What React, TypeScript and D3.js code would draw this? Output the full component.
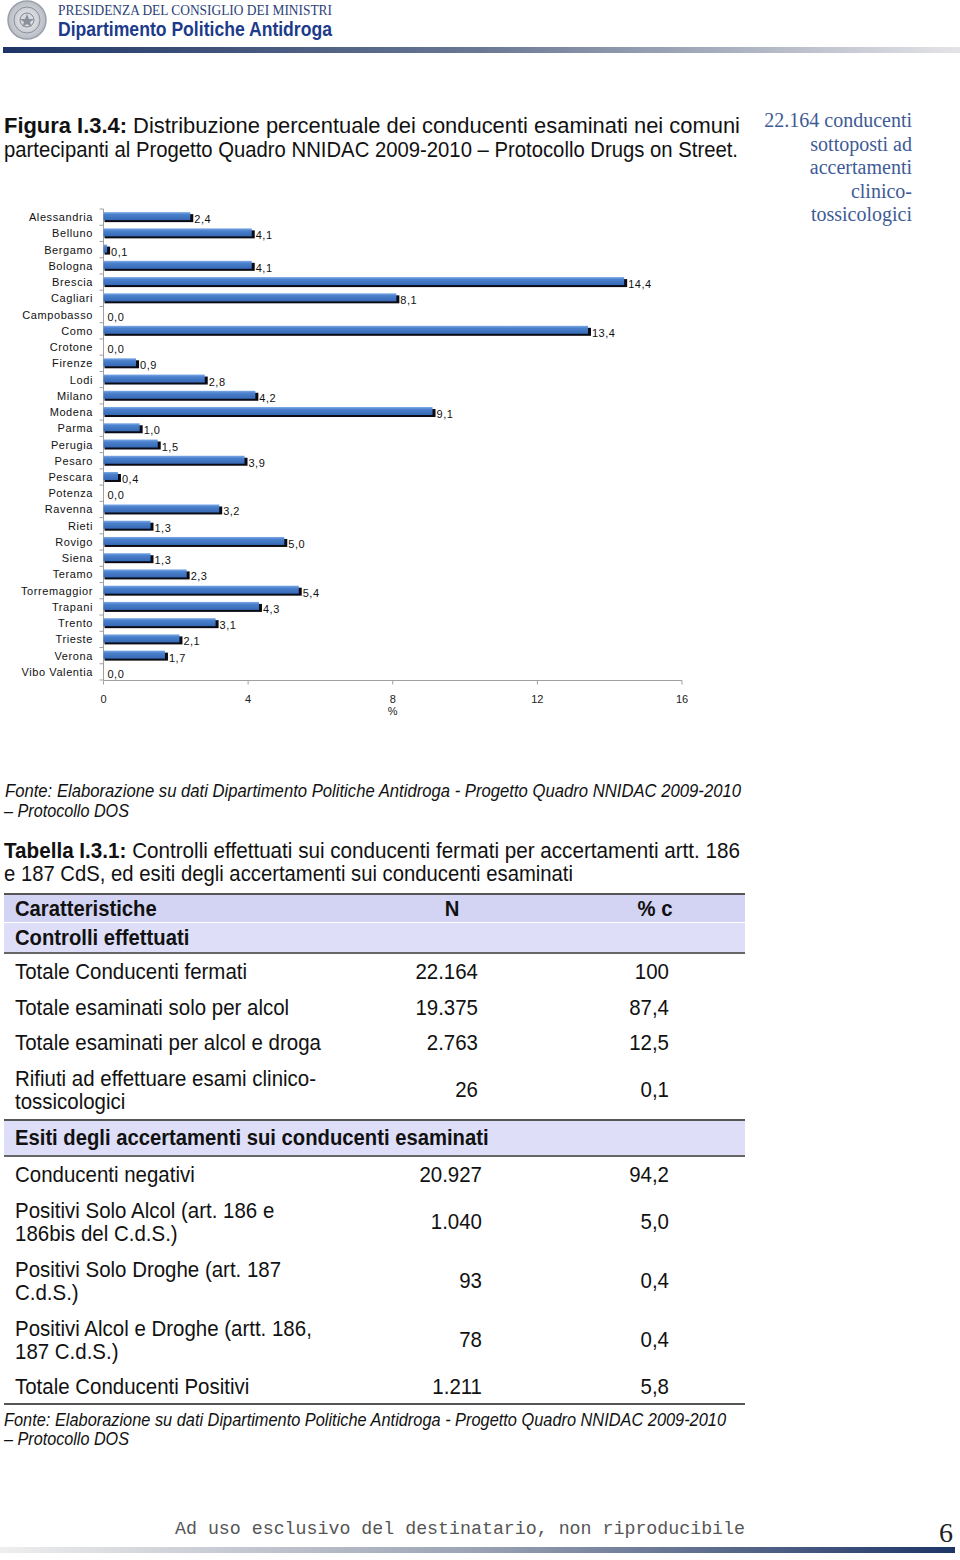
import React, { useEffect, useRef } from "react";
import * as d3 from "d3";

const categories = [
  "Alessandria", "Belluno", "Bergamo", "Bologna", "Brescia", "Cagliari", "Campobasso",
  "Como", "Crotone", "Firenze", "Lodi", "Milano", "Modena", "Parma", "Perugia", "Pesaro",
  "Pescara", "Potenza", "Ravenna", "Rieti", "Rovigo", "Siena", "Teramo", "Torremaggior",
  "Trapani", "Trento", "Trieste", "Verona", "Vibo Valentia",
];
const values = [
  2.4, 4.1, 0.1, 4.1, 14.4, 8.1, 0.0, 13.4, 0.0, 0.9, 2.8, 4.2, 9.1, 1.0, 1.5, 3.9,
  0.4, 0.0, 3.2, 1.3, 5.0, 1.3, 2.3, 5.4, 4.3, 3.1, 2.1, 1.7, 0.0,
];
const xTicks = [0, 4, 8, 12, 16];

const tableHeader = ["Caratteristiche", "N", "% c"];
const section1 = "Controlli effettuati";
const rows1Labels = [
  ["Totale Conducenti fermati"],
  ["Totale esaminati solo per alcol"],
  ["Totale esaminati per alcol e droga"],
  ["Rifiuti ad effettuare esami clinico-", "tossicologici"],
];
const rows1N = ["22.164", "19.375", "2.763", "26"];
const rows1Pct = ["100", "87,4", "12,5", "0,1"];
const section2 = "Esiti degli accertamenti sui conducenti esaminati";
const rows2Labels = [
  ["Conducenti negativi"],
  ["Positivi Solo Alcol (art. 186 e", "186bis del C.d.S.)"],
  ["Positivi Solo Droghe (art. 187", "C.d.S.)"],
  ["Positivi Alcol e Droghe (artt. 186,", "187 C.d.S.)"],
  ["Totale Conducenti Positivi"],
];
const rows2N = ["20.927", "1.040", "93", "78", "1.211"];
const rows2Pct = ["94,2", "5,0", "0,4", "0,4", "5,8"];

const annotationLines = ["22.164 conducenti", "sottoposti ad", "accertamenti", "clinico-", "tossicologici"];

const SANS = "'Liberation Sans', Arial, sans-serif";
const SERIF = "'Liberation Serif', 'Times New Roman', serif";

export default function App() {
  const svgRef = useRef<SVGSVGElement>(null);

  useEffect(() => {
    const svg = svgRef.current;
    if (!svg) return;
    const sel = d3.select(svg);
    sel.selectAll<SVGTextElement, unknown>("text[data-justify]").each(function () {
      const el = this;
      const target = +(el.getAttribute("data-justify") || 0);
      const natural = el.getComputedTextLength();
      const spaces = (el.textContent || "").split(" ").length - 1;
      if (natural > target || spaces === 0) {
        el.setAttribute("textLength", String(target));
        el.setAttribute("lengthAdjust", "spacingAndGlyphs");
      } else {
        el.setAttribute("word-spacing", String((target - natural) / spaces));
      }
    });
    sel.selectAll<SVGTextElement, unknown>("text[data-fit]").each(function () {
      const el = this;
      el.setAttribute("textLength", el.getAttribute("data-fit") || "0");
      el.setAttribute("lengthAdjust", "spacingAndGlyphs");
    });
    sel.selectAll<SVGTextElement, unknown>("text[data-sq]").each(function () {
      const el = this;
      const sq = +(el.getAttribute("data-sq") || 1);
      const natural = el.getComputedTextLength();
      el.setAttribute("textLength", String(natural * sq));
      el.setAttribute("lengthAdjust", "spacingAndGlyphs");
    });
  }, []);

  const x = d3.scaleLinear().domain([0, 16]).range([103.5, 682]);
  const y = d3.scaleBand<string>().domain(categories).range([209, 680]).padding(0);
  const fmt = (v: number) => d3.format(".1f")(v).replace(".", ",");
  const barH = 8;

  const rows1Y = [971, 1007, 1042, 1089];
  const rows2Y = [1174, 1221, 1280, 1339, 1386];
  const SQ = 0.93;

  return (
    <svg ref={svgRef} width={960} height={1560} style={{ display: "block", position: "absolute", left: 0, top: 0 }}>
      <defs>
        <linearGradient id="hdrBar" x1="0" x2="1" y1="0" y2="0">
          <stop offset="0" stopColor="#1d3566" />
          <stop offset="0.5" stopColor="#6a7894" />
          <stop offset="1" stopColor="#e4e4e8" />
        </linearGradient>
        <linearGradient id="ftrBar" x1="0" x2="1" y1="0" y2="0">
          <stop offset="0" stopColor="#eeeeee" />
          <stop offset="0.5" stopColor="#9aa2b4" />
          <stop offset="1" stopColor="#1d3566" />
        </linearGradient>
        <linearGradient id="barGrad" x1="0" x2="0" y1="0" y2="1">
          <stop offset="0" stopColor="#7eaae8" />
          <stop offset="0.3" stopColor="#4a80cc" />
          <stop offset="1" stopColor="#3669b6" />
        </linearGradient>
        <radialGradient id="logoGrad">
          <stop offset="0" stopColor="#f2f2f2" />
          <stop offset="1" stopColor="#b8bcc4" />
        </radialGradient>
      </defs>
      <rect x={0} y={0} width={960} height={1560} fill="#ffffff" />

      {/* Header */}
      <g>
        <circle cx={27} cy={20} r={19} fill="url(#logoGrad)" stroke="#9aa0aa" strokeWidth={1.5} />
        <circle cx={27} cy={20} r={13} fill="none" stroke="#8a909a" strokeWidth={1} />
        <circle cx={27} cy={20} r={7} fill="#d8dadf" stroke="#7d838d" strokeWidth={1} />
        <path d="M27 14 L29 19 L34 19 L30 22 L31.5 27 L27 24 L22.5 27 L24 22 L20 19 L25 19 Z" fill="#8a909a" />
        <text x={58} y={15} fontFamily={SERIF} fontSize={14.5} fill="#2b3f78" data-fit={274}>
          PRESIDENZA DEL CONSIGLIO DEI MINISTRI
        </text>
        <text x={58} y={36} fontFamily={SANS} fontWeight="bold" fontSize={21} fill="#1c3b8a" data-fit={274}>
          Dipartimento Politiche Antidroga
        </text>
        <rect x={3} y={47} width={957} height={6} fill="url(#hdrBar)" />
      </g>

      {/* Figure title */}
      <text x={4} y={133} fontFamily={SANS} fontSize={22} fill="#111" data-justify={736}>
        <tspan fontWeight="bold">Figura I.3.4:</tspan> Distribuzione percentuale dei conducenti esaminati nei comuni
      </text>
      <text x={4} y={157} fontFamily={SANS} fontSize={22} fill="#111" data-fit={734}>
        partecipanti al Progetto Quadro NNIDAC 2009-2010 – Protocollo Drugs on Street.
      </text>

      {/* Annotation */}
      {annotationLines.map((l, i) => (
        <text key={l} x={912} y={127 + i * 23.5} textAnchor="end" fontFamily={SERIF} fontSize={20} fill="#3e5b96">
          {l}
        </text>
      ))}

      {/* Chart */}
      <g fontFamily={SANS} fontSize={11} fill="#111">
        <line x1={103.5} x2={103.5} y1={209} y2={680} stroke="#a0a0a0" strokeWidth={1} />
        {categories.map((c, i) => (
          <line key={"yt" + c} x1={99.5} x2={103.5} y1={209 + i * y.bandwidth()} y2={209 + i * y.bandwidth()} stroke="#a0a0a0" />
        ))}
        <line x1={99.5} x2={103.5} y1={680} y2={680} stroke="#a0a0a0" />
        <line x1={103.5} x2={682} y1={680.5} y2={680.5} stroke="#a0a0a0" strokeWidth={1} />
        {xTicks.map((t) => (
          <g key={"xt" + t}>
            <line x1={x(t)} x2={x(t)} y1={680.5} y2={684.5} stroke="#a0a0a0" />
            <text x={x(t)} y={703} textAnchor="middle" fill="#222">
              {t}
            </text>
          </g>
        ))}
        <text x={x(8)} y={715} textAnchor="middle" fill="#222">%</text>

        {categories.map((c, i) => {
          const v = values[i];
          const cy = (y(c) as number) + y.bandwidth() / 2;
          const top = cy - 5;
          const x0 = x(0);
          const x1 = x(v);
          return (
            <g key={c}>
              <text x={93} y={cy + 4} textAnchor="end" letterSpacing={0.6} fill="#111">
                {c}
              </text>
              {v > 0 && (
                <>
                  <rect x={x0 + 1} y={top + 2} width={x1 - x0 + 2} height={barH} fill="#0b0b16" />
                  <rect x={x0} y={top} width={x1 - x0} height={barH} fill="url(#barGrad)" />
                </>
              )}
              <text x={v > 0 ? x1 + 4 : x0 + 4} y={cy + 6} fill="#111" letterSpacing={0.5}>
                {fmt(v)}
              </text>
            </g>
          );
        })}
      </g>

      {/* Fonte 1 */}
      <text x={5} y={797} fontFamily={SANS} fontStyle="italic" fontSize={17.5} fill="#111" data-justify={736}>
        Fonte: Elaborazione su dati Dipartimento Politiche Antidroga  - Progetto Quadro NNIDAC 2009-2010
      </text>
      <text x={4} y={817} fontFamily={SANS} fontStyle="italic" fontSize={17.5} fill="#111" data-fit={125}>
        – Protocollo DOS
      </text>

      {/* Tabella title */}
      <text x={4} y={858} fontFamily={SANS} fontSize={22} fill="#111" data-justify={736}>
        <tspan fontWeight="bold">Tabella I.3.1:</tspan> Controlli effettuati sui conducenti fermati per accertamenti artt. 186
      </text>
      <text x={4} y={881} fontFamily={SANS} fontSize={22} fill="#111" data-fit={569}>
        e 187 CdS, ed esiti degli accertamenti sui conducenti esaminati
      </text>

      {/* Table */}
      <g fontFamily={SANS} fontSize={22} fill="#111">
        <rect x={4} y={894} width={741} height={28} fill="#d3d3f3" />
        <rect x={4} y={923} width={741} height={29} fill="#dedef8" />
        <line x1={4} x2={745} y1={894} y2={894} stroke="#555" strokeWidth={2} />
        <line x1={4} x2={745} y1={953} y2={953} stroke="#333" strokeWidth={1.5} />
        <text x={15} y={916} fontWeight="bold" data-sq={0.92}>{tableHeader[0]}</text>
        <text x={452} y={916} fontWeight="bold" textAnchor="middle" data-sq={0.92}>{tableHeader[1]}</text>
        <text x={655} y={916} fontWeight="bold" textAnchor="middle" data-sq={0.92}>{tableHeader[2]}</text>
        <text x={15} y={945} fontWeight="bold" data-sq={0.92}>{section1}</text>

        {rows1Labels.map((lines, i) => (
          <g key={"r1" + i}>
            {lines.map((l, j) => (
              <text key={j} x={15} y={rows1Y[i] + 8 + (lines.length > 1 ? (j - 0.5) * 23 : 0)} data-sq={SQ}>{l}</text>
            ))}
            <text x={478} y={rows1Y[i] + 8} textAnchor="end" data-sq={SQ}>{rows1N[i]}</text>
            <text x={669} y={rows1Y[i] + 8} textAnchor="end" data-sq={SQ}>{rows1Pct[i]}</text>
          </g>
        ))}

        <line x1={4} x2={745} y1={1120} y2={1120} stroke="#555" strokeWidth={2} />
        <rect x={4} y={1121} width={741} height={34} fill="#dedef8" />
        <line x1={4} x2={745} y1={1156} y2={1156} stroke="#333" strokeWidth={1.5} />
        <text x={15} y={1145} fontWeight="bold" data-sq={0.92}>{section2}</text>

        {rows2Labels.map((lines, i) => (
          <g key={"r2" + i}>
            {lines.map((l, j) => (
              <text key={j} x={15} y={rows2Y[i] + 8 + (lines.length > 1 ? (j - 0.5) * 23 : 0)} data-sq={SQ}>{l}</text>
            ))}
            <text x={482} y={rows2Y[i] + 8} textAnchor="end" data-sq={SQ}>{rows2N[i]}</text>
            <text x={669} y={rows2Y[i] + 8} textAnchor="end" data-sq={SQ}>{rows2Pct[i]}</text>
          </g>
        ))}
        <line x1={4} x2={745} y1={1404} y2={1404} stroke="#555" strokeWidth={2} />
      </g>

      {/* Fonte 2 */}
      <text x={4} y={1426} fontFamily={SANS} fontStyle="italic" fontSize={17.5} fill="#111" data-fit={722}>
        Fonte: Elaborazione su dati Dipartimento Politiche Antidroga  - Progetto Quadro NNIDAC 2009-2010
      </text>
      <text x={4} y={1445} fontFamily={SANS} fontStyle="italic" fontSize={17.5} fill="#111" data-fit={125}>
        – Protocollo DOS
      </text>

      {/* Footer */}
      <text x={175} y={1534} fontFamily="'Liberation Mono', 'Courier New', monospace" fontSize={18.3} fill="#555" data-fit={570}>
        Ad uso esclusivo del destinatario, non riproducibile
      </text>
      <text x={939} y={1542} fontFamily={SERIF} fontSize={28} fill="#222">6</text>
      <rect x={0} y={1547} width={955} height={6} fill="url(#ftrBar)" />
    </svg>
  );
}
